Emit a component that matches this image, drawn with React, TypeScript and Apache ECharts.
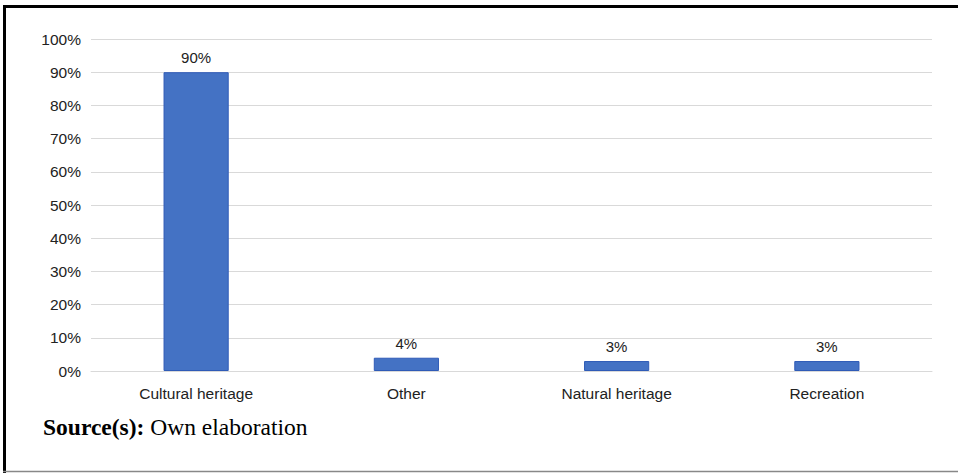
import React, { useEffect, useRef } from "react";
import * as echarts from "echarts";

const categories = ["Cultural heritage", "Other", "Natural heritage", "Recreation"];
const values = [90, 4, 3, 3];
const sourceBold = "Source(s):";
const sourceText = " Own elaboration";

export default function App() {
  const ref = useRef<HTMLDivElement>(null);
  useEffect(() => {
    if (!ref.current) return;
    const chart = echarts.init(ref.current, null, { renderer: "svg" });
    chart.setOption({
      animation: false,
      backgroundColor: "#ffffff",
      grid: { left: 91, right: 26, top: 39, bottom: 102, containLabel: false },
      xAxis: {
        type: "category",
        data: categories,
        axisLine: { show: true, lineStyle: { color: "#d9d9d9", width: 1 } },
        axisTick: { show: false },
        axisLabel: {
          color: "#222",
          fontFamily: "Liberation Sans, Arial, sans-serif",
          fontSize: 15.5,
          margin: 14,
        },
      },
      yAxis: {
        type: "value",
        min: 0,
        max: 100,
        interval: 10,
        axisLine: { show: false },
        axisTick: { show: false },
        splitLine: { lineStyle: { color: "#d9d9d9", width: 1 } },
        axisLabel: {
          formatter: "{value}%",
          color: "#222",
          fontFamily: "Liberation Sans, Arial, sans-serif",
          fontSize: 15.5,
          margin: 10,
        },
      },
      series: [
        {
          type: "bar",
          data: values,
          barWidth: "31%",
          itemStyle: { color: "#4472C4", borderColor: "#2F5BB7", borderWidth: 1 },
          label: {
            show: true,
            position: "top",
            distance: 7,
            formatter: "{c}%",
            color: "#222",
            fontFamily: "Liberation Sans, Arial, sans-serif",
            fontSize: 15,
          },
        },
      ],
      graphic: [
        { type: "line", shape: { x1: 3, y1: 6.5, x2: 958, y2: 6.5 }, style: { stroke: "#000", lineWidth: 3 } },
        { type: "line", shape: { x1: 4.5, y1: 5, x2: 4.5, y2: 473 }, style: { stroke: "#000", lineWidth: 3 } },
        { type: "line", shape: { x1: 3, y1: 471.5, x2: 958, y2: 471.5 }, style: { stroke: "#888", lineWidth: 1.5 } },
        {
          type: "text",
          left: 43,
          top: 415,
          style: {
            rich: {
              b: { fontFamily: "Liberation Serif, Times New Roman, serif", fontWeight: "bold", fontSize: 23.5, fill: "#000" },
              n: { fontFamily: "Liberation Serif, Times New Roman, serif", fontSize: 23.5, fill: "#000" },
            },
            text: `{b|${sourceBold}}{n|${sourceText}}`,
          },
        },
      ],
    });
    return () => chart.dispose();
  }, []);
  return <div ref={ref} style={{ position: "fixed", left: 0, top: 0, width: 958, height: 473 }} />;
}
